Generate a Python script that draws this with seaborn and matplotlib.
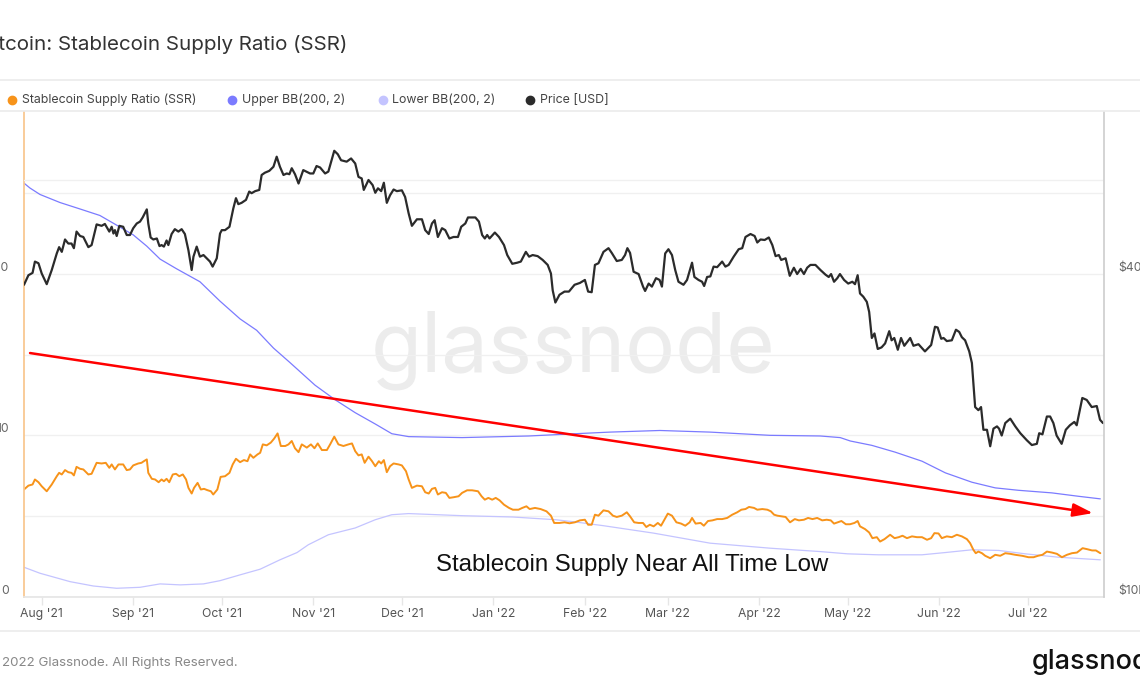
import matplotlib
matplotlib.use("Agg")   # no display
import matplotlib.pyplot as plt
from matplotlib.lines import Line2D
from matplotlib.ticker import NullLocator
import seaborn as sns
import pandas as pd

# ---------------------------------------------------------------- data
# day offsets are counted from the first day of the chart
START = pd.Timestamp("2021-07-26")

ssr_days = [0, 1.5, 2.9, 3.7, 4.9, 6.0, 7.7, 9.4, 11.1, 11.9, 12.8, 13.9, 15.0, 16.1, 16.9, 17.8,
            19.0, 20.1, 21.8, 22.9, 24.6, 26.3, 27.7, 28.9, 29.7, 30.8, 32.0, 33.6, 34.8, 35.9,
            37.0, 38.7, 39.8, 40.6, 41.6, 42.1, 43.3, 44.4, 45.6, 46.6, 47.4, 48.3, 49.2, 50.4,
            51.5, 52.6, 53.8, 54.9, 55.7, 56.8, 57.6, 58.8, 59.9, 61.0, 62.1, 63.3, 64.1, 65.5,
            66.6, 68.1, 69.6, 70.7, 71.8, 73.2, 74.5, 75.7, 76.6, 77.7, 79.1, 80.0, 80.9, 82.2,
            83.6, 84.7, 85.9, 87.0, 88.5, 89.6, 90.7, 91.8, 93.0, 94.1, 95.8, 97.2, 98.4, 99.5,
            100.9, 102.6, 103.7, 105.1, 106.5, 108.2, 109.9, 111.1, 112.2, 113.3, 114.4, 115.4,
            116.7, 117.9, 119.0, 120.2, 121.0, 121.9, 122.9, 124.0, 125.2, 126.9, 128.0, 129.4,
            130.3, 131.4, 133.1, 134.8, 135.9, 137.1, 138.2, 139.3, 140.2, 141.6, 142.9, 144.1,
            145.5, 147.2, 148.4, 150.1, 151.8, 153.8, 155.0, 156.1, 157.3, 158.6, 159.8, 161.1,
            162.6, 164.3, 165.6, 167.5, 168.8, 170.2, 171.3, 173.1, 175.0, 177.0, 178.5, 179.6,
            181.4, 183.1, 184.8, 186.6, 188.3, 190.0, 191.1, 192.3, 193.4, 194.6, 196.3, 198.0,
            199.5, 200.8, 202.5, 204.2, 205.3, 206.7, 208.2, 209.7, 210.8, 212.0, 213.3, 214.7,
            215.8, 216.7, 218.1, 219.5, 221.0, 222.6, 224.0, 225.5, 226.3, 227.5, 229.2, 230.3,
            231.7, 233.2, 234.8, 236.5, 238.2, 239.9, 241.6, 243.0, 244.4, 245.6, 247.3, 248.4,
            250.1, 251.8, 253.0, 254.1, 255.2, 256.6, 258.0, 259.5, 261.1, 262.5, 264.2, 265.6,
            267.1, 268.7, 270.4, 271.9, 273.3, 274.4, 275.6, 276.9, 278.4, 279.8, 281.3, 282.4,
            283.2, 284.9, 286.3, 287.4, 288.9, 290.0, 291.5, 293.4, 294.9, 296.3, 297.6, 299.1,
            300.8, 302.5, 304.2, 305.9, 307.3, 308.4, 309.8, 310.9, 312.6, 314.3, 316.0, 317.7,
            319.4, 320.5, 321.6, 322.4, 323.3, 324.5, 325.6, 327.3, 329.0, 330.7, 332.4, 334.1,
            335.8, 338.1, 340.3, 342.0, 343.5, 345.0, 346.5, 348.2, 349.9, 351.6, 353.3, 355.0,
            356.7, 358.6, 360.1, 361.8, 363.1, 364.6]
ssr_values = [6.65, 6.89, 6.96, 7.27, 7.10, 6.85, 6.54, 6.96, 7.47, 7.68, 7.58, 7.85, 7.72, 7.68, 7.52, 8.05,
              7.93, 7.89, 7.58, 7.62, 8.30, 8.26, 8.30, 7.99, 8.20, 7.89, 8.20, 8.20, 7.85, 7.89,
              8.14, 8.26, 8.30, 8.40, 8.51, 7.68, 7.31, 7.27, 7.10, 7.27, 7.16, 7.31, 7.10, 7.58,
              7.62, 7.47, 7.58, 7.27, 6.75, 6.40, 6.75, 7.06, 6.65, 6.69, 6.61, 6.54, 6.34, 6.65,
              7.43, 7.47, 7.68, 8.20, 8.55, 8.34, 8.47, 8.40, 8.82, 8.61, 8.82, 8.92, 9.44, 9.38,
              9.55, 9.79, 10.12, 9.34, 9.34, 9.44, 9.65, 9.20, 8.96, 9.44, 9.24, 9.44, 9.20, 9.50,
              9.09, 9.09, 9.44, 9.92, 9.44, 9.34, 9.44, 9.50, 9.02, 8.76, 8.82, 8.30,
              8.68, 8.40, 8.09, 8.40, 8.26, 8.47, 7.72, 8.09, 8.26, 8.20, 8.14, 7.78,
              7.27, 6.75, 6.89, 6.85, 6.48, 6.40, 6.69, 6.75, 6.34, 6.48, 6.44, 6.13,
              6.17, 6.23, 6.44, 6.60, 6.60, 6.54, 6.23, 6.02, 6.13, 6.02, 6.13, 5.98,
              5.71, 5.51, 5.40, 5.40, 5.51, 5.61, 5.44, 5.51, 5.44, 5.30, 5.03, 4.58,
              4.58, 4.62, 4.56, 4.62, 4.74, 4.78, 4.47, 4.47, 5.09, 5.03, 5.36, 5.30,
              5.03, 4.95, 5.03, 5.24, 4.99, 4.62, 4.58, 4.58, 4.33, 4.47, 4.37, 4.58,
              4.41, 4.70, 5.16, 5.03, 4.62, 4.54, 4.41, 4.62, 4.89, 4.54, 4.58, 4.41,
              4.70, 4.74, 4.82, 4.82, 4.89, 5.09, 5.24, 5.40, 5.44, 5.57, 5.51, 5.40,
              5.44, 5.40, 5.30, 5.09, 5.03, 4.99, 4.95, 4.62, 4.82, 4.74, 4.78, 4.89,
              4.82, 4.89, 4.74, 4.78, 4.74, 4.54, 4.62, 4.70, 4.50, 4.50, 4.58, 4.70,
              4.37, 4.20, 3.99, 3.64, 3.70, 3.43, 3.58, 3.85, 3.64, 3.70, 3.79, 3.64,
              3.75, 3.70, 3.70, 3.54, 3.64, 3.95, 3.93, 3.64, 3.75, 3.70, 3.85, 3.75,
              3.58, 3.33, 2.92, 2.71, 2.81, 2.71, 2.55, 2.40, 2.61, 2.55, 2.71, 2.67,
              2.61, 2.55, 2.46, 2.46, 2.55, 2.61, 2.81, 2.75, 2.67, 2.46, 2.61, 2.71,
              2.75, 3.02, 2.96, 2.88, 2.88, 2.71]

upper_days = [0, 2.0, 5.4, 12.2, 19.0, 25.7, 31.4, 37.0, 41.6, 46.1, 51.7, 59.6, 66.4, 73.2, 78.8,
              84.5, 90.1, 98.6, 105.4, 112.2, 119.0, 124.6, 130.3, 148.4, 171.0, 186.8, 198.5,
              215.4, 232.4, 252.7, 269.7, 276.5, 279.9, 287.2, 295.1, 304.2, 312.1, 321.1, 329.0,
              336.9, 348.2, 357.2, 364.6]
upper_values = [25.6, 25.3, 24.9, 24.4, 24.0, 23.6, 23.0, 22.4, 21.7, 20.9, 20.3, 19.5, 18.3, 17.2, 16.5,
                15.4, 14.5, 13.1, 12.2, 11.4, 10.7, 10.1, 9.92, 9.86, 9.96, 10.1, 10.2,
                10.3, 10.2, 10.0, 9.96, 9.86, 9.65, 9.38, 8.96, 8.40, 7.68, 7.10, 6.75,
                6.60, 6.44, 6.23, 6.07]

lower_days = [0, 5.4, 15.6, 23.5, 31.4, 39.3, 46.1, 52.9, 60.8, 66.4, 73.2, 80.0, 86.7, 92.5, 96.3,
              103.1, 112.2, 119.0, 124.6, 130.3, 148.4, 165.4, 180.1, 186.8, 196.3, 213.3, 232.4,
              252.7, 269.7, 279.0, 289.4, 304.2, 312.1, 321.1, 330.2, 339.2, 350.5, 364.6]
lower_values = [1.84, 1.47, 0.95, 0.68, 0.54, 0.60, 0.81, 0.75, 0.81, 1.01, 1.37, 1.72, 2.30, 2.75, 3.23,
                3.85, 4.27, 4.78, 5.09, 5.16, 5.03, 4.95, 4.78, 4.64, 4.41, 3.95, 3.33,
                3.02, 2.81, 2.67, 2.61, 2.61, 2.75, 2.92, 2.88, 2.67, 2.46, 2.30]

price_days = [0, 1.5, 2.9, 3.7, 4.9, 6.0, 7.7, 9.4, 11.1, 11.9, 12.8, 13.9, 15.0, 16.1, 16.9, 17.8,
              19.0, 20.1, 21.8, 22.9, 24.6, 26.3, 27.4, 28.9, 29.7, 30.3, 30.8, 31.4, 32.3, 33.6,
              34.8, 35.9, 37.0, 38.2, 39.3, 40.2, 41.6, 42.1, 42.9, 43.8, 45.0, 45.9, 46.6, 47.4,
              48.3, 48.9, 50.0, 51.1, 52.3, 53.4, 54.5, 55.7, 56.8, 57.4, 58.5, 59.6, 60.8, 61.9,
              63.0, 63.9, 65.3, 66.4, 67.0, 68.1, 69.6, 70.9, 71.8, 72.6, 73.7, 75.2, 76.3, 77.1,
              78.3, 79.7, 80.5, 81.6, 83.1, 84.5, 85.6, 86.7, 87.9, 89.0, 89.9, 90.7, 91.8, 93.0,
              94.6, 96.9, 98.0, 99.1, 100.3, 102.0, 103.1, 104.2, 105.1, 106.3, 107.4, 109.3,
              110.8, 112.2, 113.3, 114.4, 115.1, 116.7, 118.1, 119.0, 119.9, 121.0, 121.9, 122.9,
              124.0, 125.2, 126.3, 128.0, 129.1, 130.3, 131.4, 133.1, 134.8, 135.9, 137.1, 138.2,
              139.1, 140.2, 141.6, 142.7, 144.1, 145.5, 147.0, 148.1, 149.5, 150.4, 152.9, 154.1,
              155.2, 156.1, 156.9, 157.7, 159.5, 160.9, 162.6, 163.7, 165.4, 167.1, 168.3, 170.0,
              171.1, 172.3, 174.0, 175.7, 177.4, 178.5, 179.1, 180.0, 181.4, 183.1, 184.6, 186.5,
              188.3, 190.0, 191.1, 192.3, 193.4, 194.6, 196.3, 198.0, 199.1, 200.8, 202.5, 203.6,
              204.4, 205.3, 206.5, 208.2, 209.7, 210.4, 211.6, 212.7, 214.1, 215.3, 216.1, 217.2,
              218.3, 219.5, 220.6, 221.7, 223.4, 224.6, 226.3, 227.1, 228.5, 229.7, 230.4, 231.4,
              232.5, 233.6, 234.8, 236.5, 237.6, 238.7, 240.4, 242.1, 243.3, 244.4, 246.1, 247.5,
              248.4, 249.5, 250.9, 252.3, 253.5, 254.6, 255.7, 256.5, 258.0, 259.4, 260.8, 261.9,
              263.1, 264.2, 265.3, 266.4, 268.1, 269.8, 271.5, 272.6, 273.4, 274.4, 275.5, 276.4,
              277.8, 279.2, 280.6, 281.5, 282.4, 283.2, 284.3, 285.5, 286.3, 287.2, 288.1, 289.2,
              290.5, 291.7, 293.1, 293.9, 294.8, 296.0, 297.1, 298.2, 300.2, 301.3, 303.0, 305.2,
              307.3, 308.6, 309.5, 310.7, 311.5, 312.6, 314.3, 315.7, 316.8, 317.7, 318.8, 320.2,
              321.1, 321.6, 322.2, 323.3, 324.2, 325.0, 326.2, 327.3, 328.4, 329.6, 330.3, 331.2,
              332.4, 334.1, 335.8, 337.5, 339.7, 341.4, 343.1, 343.9, 345.0, 346.5, 347.6, 348.7,
              349.8, 351.5, 352.9, 354.3, 355.8, 356.6, 358.5, 360.0, 361.7, 363.4, 364.5, 365.5]
price_k = [38.2, 39.8, 40.2, 42.2, 41.9, 40.1, 38.3, 40.7, 43.7, 44.9, 44.0, 46.4, 45.6, 45.6, 44.7, 48.0,
           47.1, 46.9, 44.9, 45.3, 49.5, 49.2, 49.6, 48.0, 49.0, 47.6, 48.3, 47.1, 49.2, 49.0,
           47.3, 47.3, 48.7, 49.7, 50.1, 51.0, 52.8, 49.7, 46.8, 46.4, 46.6, 45.1, 45.3, 45.0,
           46.2, 45.3, 47.5, 48.5, 48.0, 48.5, 47.5, 44.3, 40.7, 43.1, 45.0, 43.1, 43.4, 42.8,
           42.2, 41.3, 42.8, 47.6, 48.3, 48.3, 49.0, 53.0, 55.4, 54.0, 54.3, 55.0, 57.0, 56.6,
           57.1, 57.4, 61.2, 61.8, 62.3, 63.4, 66.2, 63.4, 61.2, 61.6, 61.4, 63.0, 61.4, 59.0,
           62.5, 61.6, 61.6, 63.6, 63.2, 61.6, 62.1, 65.2, 67.9, 66.9, 65.2, 64.8,
           65.7, 64.3, 60.7, 60.3, 57.4, 59.9, 58.6, 56.7, 57.8, 57.1, 59.2, 54.3,
           56.1, 57.5, 57.1, 57.3, 55.7, 51.9, 49.2, 50.6, 50.6, 48.3, 47.5, 49.7,
           50.4, 46.9, 48.7, 48.3, 46.6, 46.9, 46.9, 49.0, 49.7, 51.0, 51.0, 50.1,
           47.3, 46.6, 47.3, 46.6, 47.8, 46.9, 45.3, 43.4, 41.8, 42.0, 42.2, 44.0,
           43.1, 43.4, 43.2, 42.5, 41.6, 40.1, 37.3, 35.4, 36.6, 37.1, 37.1, 38.2,
           38.5, 39.0, 37.1, 37.0, 41.6, 41.9, 44.0, 44.7, 43.8, 42.3, 42.5, 43.4,
           44.7, 43.8, 40.4, 40.0, 37.9, 37.2, 38.4, 37.9, 39.3, 39.0, 37.9, 43.7,
           44.5, 43.4, 40.7, 38.7, 38.2, 39.0, 42.0, 39.5, 39.0, 38.7, 38.0, 39.5,
           39.6, 41.3, 41.2, 42.2, 41.3, 41.6, 43.1, 44.5, 44.7, 46.9, 47.5, 47.1,
           45.8, 46.4, 46.3, 46.8, 45.3, 43.2, 43.4, 42.5, 42.8, 39.7, 41.1, 40.0,
           40.9, 40.0, 41.1, 41.6, 41.6, 40.7, 39.9, 39.5, 40.0, 38.7, 39.3, 40.0,
           39.0, 38.4, 38.7, 38.3, 39.8, 36.8, 36.3, 35.5, 34.0, 30.4, 31.0, 29.0,
           29.2, 29.7, 31.3, 30.1, 30.4, 28.9, 30.4, 29.4, 30.4, 29.4, 29.6, 28.7,
           29.5, 31.9, 31.8, 30.3, 30.4, 30.0, 30.1, 31.5, 31.2, 30.5, 30.1, 28.7,
           27.3, 25.0, 22.6, 22.3, 22.6, 20.5, 20.5, 19.1, 20.6, 20.8, 20.6, 20.0,
           21.1, 21.5, 20.8, 20.2, 19.6, 19.2, 19.3, 20.2, 20.1, 21.7, 21.7, 21.1,
           20.0, 19.3, 20.5, 20.9, 21.2, 20.9, 23.5, 23.3, 22.6, 22.7, 21.4, 21.1]

month_ticks = ["2021-08-01", "2021-09-01", "2021-10-01", "2021-11-01", "2021-12-01", "2022-01-01",
               "2022-02-01", "2022-03-01", "2022-04-01", "2022-05-01", "2022-06-01", "2022-07-01"]

series_names = ["Stablecoin Supply Ratio (SSR)", "Upper BB(200, 2)", "Lower BB(200, 2)", "Price [USD]"]
series_colors = ["#f7931a", "#7b7bff", "#c4c4ff", "#2b2b2b"]


def to_dates(days):
    return START + pd.to_timedelta(days, unit="D")


# ---------------------------------------------------------------- style
sns.set_theme(style="white")
plt.rcParams["font.family"] = ["Inter", "DejaVu Sans"]

fig = plt.figure(figsize=(11.4, 6.94), dpi=100)
W, H = 1140, 694
ax = fig.add_axes([24 / W, 97 / H, 1080 / W, 485 / H])
ax2 = ax.twinx()
ax2.set_yscale("log")

# watermark
ax.text(0.508, 0.508, "glassnode", transform=ax.transAxes, ha="center", va="center",
        fontsize=60, color="#ececec", zorder=0)

# SSR + bands on the left axis
sns.lineplot(x=to_dates(upper_days), y=upper_values, ax=ax, color=series_colors[1],
             lw=0.9, estimator=None, sort=False)
sns.lineplot(x=to_dates(lower_days), y=lower_values, ax=ax, color=series_colors[2],
             lw=0.9, estimator=None, sort=False)
sns.lineplot(x=to_dates(ssr_days), y=ssr_values, ax=ax, color=series_colors[0],
             lw=1.4, estimator=None, sort=False)

# price on the right (log) axis
sns.lineplot(x=to_dates(price_days), y=[p * 1000 for p in price_k], ax=ax2,
             color=series_colors[3], lw=1.6, estimator=None, sort=False)

ax.set_xlim(START, START + pd.Timedelta(days=365.85))
ax.set_ylim(0, 30)
ax2.set_ylim(10000, 80200)

# axes / grid
ax.set_yticks([0, 5, 10, 15, 20, 25])
ax.set_yticklabels(["0", "", "10", "", "20", ""])
ax.grid(axis="y", color="#f0f0f0", lw=1)
ax.grid(axis="x", visible=False)
ax2.axhline(60000, color="#f0f0f0", lw=1, zorder=0)
ax2.set_yticks([10000, 40000])
ax2.set_yticklabels(["$10k", "$40k"])
ax2.yaxis.set_minor_locator(NullLocator())
ax2.grid(False)

ticks = pd.to_datetime(month_ticks)
ax.set_xticks(ticks)
ax.set_xticklabels([t.strftime("%b '%y") for t in ticks])
ax.tick_params(axis="x", length=6, width=1, color="#e6e6e6", pad=2,
               labelsize=8.8, labelcolor="#555555", bottom=True)
ax.tick_params(axis="y", length=0, pad=11, labelsize=8.8, labelcolor="#666666")
ax2.tick_params(axis="y", length=0, pad=10, labelsize=8.8, labelcolor="#666666")

for a in (ax, ax2):
    a.set_xlabel("")
    a.set_ylabel("")
    for s in a.spines.values():
        s.set_visible(False)
ax.spines["left"].set_visible(True)
ax.spines["left"].set_color("#f9c68d")
ax.spines["bottom"].set_visible(True)
ax.spines["bottom"].set_color("#e6e6e6")
ax2.spines["right"].set_visible(True)
ax2.spines["right"].set_color("#cfcfcf")

# trend arrow + note
ax2.annotate("", xy=(0.9898, 0.173), xytext=(0.0056, 0.503),
             xycoords="axes fraction", textcoords="axes fraction",
             arrowprops=dict(arrowstyle="-|>,head_length=1.2,head_width=0.4",
                             color="#ff0000", lw=1.8, mutation_scale=10,
                             shrinkA=0, shrinkB=0))
ax2.text(0.563, 0.066, "Stablecoin Supply Near All Time Low", transform=ax.transAxes,
         ha="center", va="center", fontsize=17.3, color="#111111",
         family=["Liberation Sans", "DejaVu Sans"])

# ---------------------------------------------------------------- frame texts
fig.text(347 / W, 1 - 45 / H, "Bitcoin: Stablecoin Supply Ratio (SSR)", ha="right", va="center",
         fontsize=14.8, color="#333333")
for y in (80, 111, 631):
    fig.add_artist(Line2D([0, 1], [1 - y / H] * 2, transform=fig.transFigure,
                          color="#ebebeb", lw=1.2))

legend_dot_x = [12, 232, 383, 530]
legend_text_x = [22, 242, 392, 540]
for name, c, dx, tx in zip(series_names, series_colors, legend_dot_x, legend_text_x):
    fig.add_artist(Line2D([dx / W], [1 - 100 / H], marker="o", ms=6, color=c, lw=0,
                          transform=fig.transFigure))
    fig.text(tx / W, 1 - 100 / H, name, ha="left", va="center", fontsize=8.9, color="#444444")

fig.text(238 / W, 1 - 663 / H, "\u00a9 2022 Glassnode. All Rights Reserved.", ha="right",
         va="center", fontsize=9.6, color="#888888")
fig.text(1032 / W, 1 - 662 / H, "glassnode", ha="left", va="center", fontsize=19.5,
         color="#111111", fontweight="medium")

plt.setp(ax.get_yticklabels(), va="bottom")
plt.setp(ax2.get_yticklabels(), va="bottom")

fig.savefig("out.png", dpi=100)
plt.close(fig)
